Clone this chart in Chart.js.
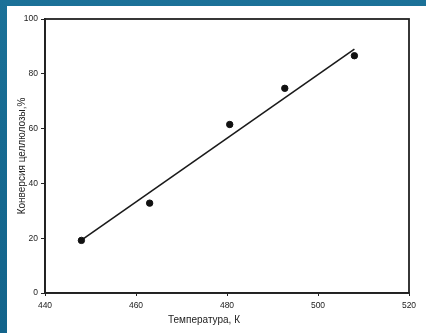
<!DOCTYPE html>
<html>
<head>
<meta charset="utf-8">
<script src="https://cdn.jsdelivr.net/npm/chart.js@4"></script>
<style>
  html, body { margin: 0; padding: 0; }
  body {
    width: 426px; height: 333px; overflow: hidden; position: relative;
    background: linear-gradient(180deg, #1b7198 0%, #166a91 40%, #13648b 100%);
  }
  #sheet {
    position: absolute; left: 7px; top: 6px; width: 419px; height: 327px;
    background: #fff;
  }
  #xTitle {
    position: absolute; left: 0; width: 394px; top: 308px; text-align: center;
    font: 10px "Liberation Sans", Arial, sans-serif; color: #222;
  }
</style>
</head>
<body>
<div id="sheet">
  <canvas id="myChart" width="419" height="327"></canvas>
  <div id="xTitle">Температура, К</div>
</div>
<script>
// du lieu
var temps = [448, 463, 480.6, 492.7, 508];
var conversion = [19.2, 32.8, 61.5, 74.7, 86.6];
var fitTemps = [448, 508];
var fitConversion = [19.3, 89];
var xTicks = [440, 460, 480, 500, 520];
var yTicks = [0, 20, 40, 60, 80, 100];

var tickFont = { family: "'Liberation Sans', Arial, sans-serif", size: 8.5 };

// khung bao quanh vung ve
var framePlugin = {
    id: 'frame',
    afterDraw: function (chart) {
        var a = chart.chartArea;
        var ctx = chart.ctx;
        ctx.save();
        ctx.strokeStyle = '#222';
        ctx.lineWidth = 1.8;
        ctx.strokeRect(a.left, a.top, a.right - a.left, a.bottom - a.top);
        ctx.restore();
    }
};

function VeDoThi() {
    new Chart("myChart", {
        type: "scatter",
        data: {
            datasets: [{
                data: temps.map(function (t, i) { return { x: t, y: conversion[i] }; }),
                backgroundColor: "#111",
                borderColor: "#111",
                pointRadius: 3.2,
                pointHoverRadius: 3.2
            }, {
                data: fitTemps.map(function (t, i) { return { x: t, y: fitConversion[i] }; }),
                showLine: true,
                borderColor: "#1a1a1a",
                borderWidth: 1.6,
                pointRadius: 0
            }]
        },
        plugins: [framePlugin],
        options: {
            responsive: false,
            animation: false,
            events: [],
            layout: { padding: { left: 0, right: 17, top: 13, bottom: 0 } },
            plugins: { legend: { display: false }, tooltip: { enabled: false } },
            scales: {
                x: {
                    type: "linear",
                    min: 440, max: 520,
                    afterBuildTicks: function (s) { s.ticks = xTicks.map(function (v) { return { value: v }; }); },
                    afterFit: function (s) { s.height = 40; },
                    grid: { drawOnChartArea: false, color: "#222", tickLength: 3 },
                    border: { color: "#222", width: 1.8 },
                    ticks: { font: tickFont, color: "#222", padding: 5, maxRotation: 0 }
                },
                y: {
                    min: 0, max: 100,
                    afterBuildTicks: function (s) { s.ticks = yTicks.map(function (v) { return { value: v }; }); },
                    afterFit: function (s) { s.width = 38; },
                    grid: { drawOnChartArea: false, color: "#222", tickLength: 4 },
                    border: { color: "#222", width: 1.8 },
                    ticks: { font: tickFont, color: "#222", padding: 3 },
                    title: {
                        display: true,
                        text: "Конверсия целлюлозы,%",
                        color: "#222",
                        font: { family: "'Liberation Sans', Arial, sans-serif", size: 10 },
                        padding: { top: 9, bottom: 0 }
                    }
                }
            }
        }
    });
}

VeDoThi();
</script>
</body>
</html>
